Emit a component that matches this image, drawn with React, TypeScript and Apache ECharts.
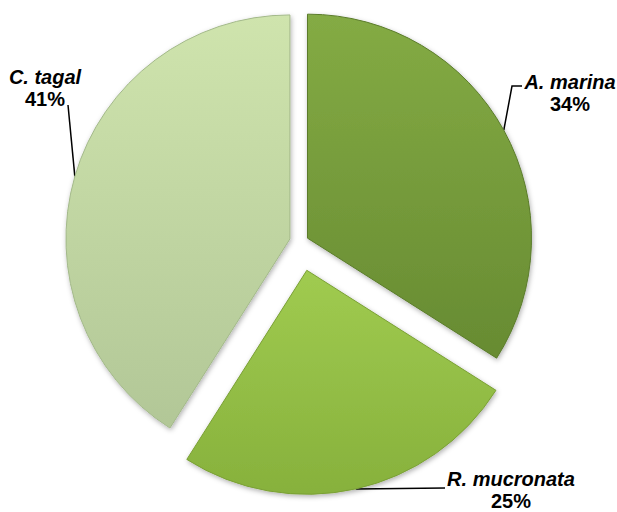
import React, { useEffect, useRef } from "react";
import * as echarts from "echarts";

const categories = ["A. marina", "R. mucronata", "C. tagal"];
const values = [34, 25, 41];
const explodeOffsets = [8, 29, 11];
const topColors = ["#84ab44", "#a0cb50", "#cfe4ad"];
const bottomColors = ["#678b32", "#87b13c", "#b2c797"];
const edgeColors = ["#5b7c2b", "#7aa035", "#a3b98a"];

// layout (label anchors and leader-line bends), kept apart from data
const BASE_CENTER = [300.5, 242];
const RADIUS = 224;
const labelAnchors = [
  [570, 93],
  [511, 490],
  [45, 88],
];
const leaderBends = [
  [
    [512, 86],
    [522, 86],
  ],
  [
    [445, 488],
    [445, 488],
  ],
  [
    [68, 105],
    [68, 105],
  ],
];

export default function App() {
  const ref = useRef<HTMLDivElement>(null);
  useEffect(() => {
    if (!ref.current) return;
    const chart = echarts.init(ref.current, null, { renderer: "svg" });
    const total = values.reduce((a, b) => a + b, 0);
    let cum = 0;
    const mids = values.map((v) => {
      const m = ((cum + v / 2) / total) * 2 * Math.PI;
      cum += v;
      return m; // clockwise from 12 o'clock
    });
    const centers = mids.map((m, i) => [
      BASE_CENTER[0] + explodeOffsets[i] * Math.sin(m),
      BASE_CENTER[1] - explodeOffsets[i] * Math.cos(m),
    ]);

    const series = categories.map((_, s) => ({
      type: "pie",
      center: centers[s],
      radius: [0, RADIUS],
      startAngle: 90,
      clockwise: true,
      avoidLabelOverlap: false,
      percentPrecision: 0,
      silent: true,
      emphasis: { disabled: true },
      data: categories.map((name, i) => {
        const own = i === s;
        return {
          name,
          value: values[i],
          itemStyle: own
            ? {
                color: new echarts.graphic.LinearGradient(0, 0, 0, 1, [
                  { offset: 0, color: topColors[i] },
                  { offset: 1, color: bottomColors[i] },
                ]),
                borderColor: edgeColors[i],
                borderWidth: 1,
                shadowColor: "rgba(0,0,0,0.3)",
                shadowBlur: 5,
                shadowOffsetX: 1,
                shadowOffsetY: 2,
              }
            : { color: "transparent", borderWidth: 0, shadowBlur: 0 },
          label: { show: own },
          labelLine: { show: own },
        };
      }),
      label: {
        show: true,
        position: "outside",
        formatter: "{n|{b}}\n{p|{d}%}",
        rich: {
          n: {
            fontFamily: "Liberation Sans",
            fontStyle: "italic",
            fontWeight: "bold",
            fontSize: 20,
            lineHeight: 22,
            color: "#000",
            align: "center",
          },
          p: {
            fontFamily: "Liberation Sans",
            fontWeight: "bold",
            fontSize: 20,
            lineHeight: 22,
            color: "#000",
            align: "center",
          },
        },
      },
      labelLine: {
        show: true,
        lineStyle: { color: "#000", width: 1.5 },
      },
      labelLayout: (params: any) => {
        const i = params.dataIndex;
        if (i !== s) return {};
        const p0 = [
          centers[i][0] + RADIUS * Math.sin(mids[i]),
          centers[i][1] - RADIUS * Math.cos(mids[i]),
        ];
        return {
          x: labelAnchors[i][0],
          y: labelAnchors[i][1],
          align: "center",
          verticalAlign: "middle",
          labelLinePoints: [p0, leaderBends[i][0], leaderBends[i][1]],
        };
      },
    }));

    chart.setOption({
      animation: false,
      backgroundColor: "#ffffff",
      series,
    });
    return () => chart.dispose();
  }, []);
  return (
    <div
      ref={ref}
      style={{ position: "fixed", left: 0, top: 0, width: 617, height: 512 }}
    />
  );
}
